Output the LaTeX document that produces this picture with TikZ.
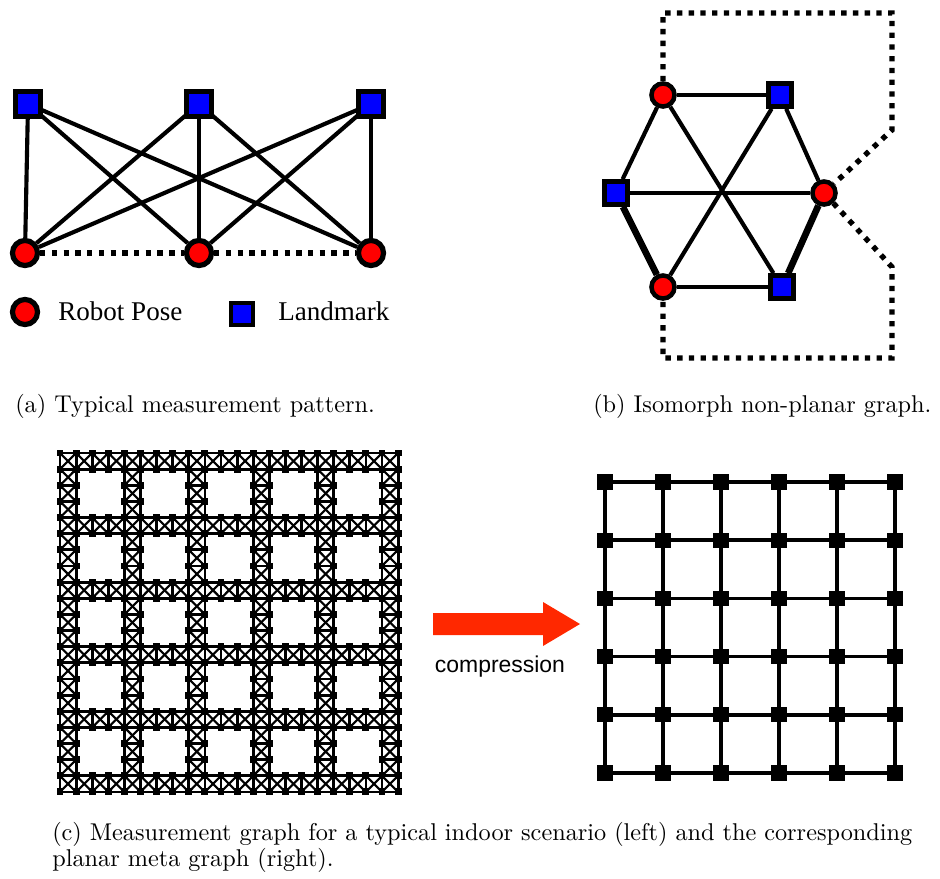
\documentclass[tikz,border=0pt]{standalone}
\usepackage{fontspec}
\newfontfamily\legendfont{Liberation Serif}
\newfontfamily\labelfont{Liberation Sans}
\newfontfamily\capfont{lmroman10-regular}[Extension=.otf]
\usetikzlibrary{backgrounds}
\definecolor{arrowred}{RGB}{255,40,0}

\tikzset{
  pose/.style={circle, draw=black, fill=red, line width=3.9pt, minimum size=18.8pt, inner sep=0pt},
  landmark/.style={rectangle, draw=black, fill=blue, line width=3.6pt, minimum size=18.4pt, inner sep=0pt},
  hpose/.style={pose, line width=3.4pt, minimum size=17.3pt},
  hmark/.style={landmark, line width=3.4pt, minimum size=17.3pt},
  meas/.style={line width=3.1pt},
  heavy/.style={line width=5pt},
  odo/.style={line width=4pt, dash pattern=on 4pt off 4.8pt},
  gside/.style={line width=2.1pt},
  gdiag/.style={line width=1.6pt},
  gnode/.style={rectangle, fill=black, minimum size=5.2pt, inner sep=0pt},
  mline/.style={line width=2.6pt},
  mnode/.style={rectangle, fill=black, minimum size=11.3pt, inner sep=0pt},
  legendtext/.style={font=\legendfont\fontsize{20.3pt}{24pt}\selectfont, inner sep=0pt, anchor=base west},
  captext/.style={font=\capfont\fontsize{18.2pt}{20pt}\selectfont, inner sep=0pt, anchor=base west},
}

\begin{document}
\begin{tikzpicture}[x=0.75pt, y=-0.75pt]
\useasboundingbox (0,0) rectangle (940,879);

% ---------- (a) measurement pattern ----------
\node[pose] (r1) at (25,253) {};
\node[pose] (r2) at (199,253) {};
\node[pose] (r3) at (371,253) {};
\node[landmark] (l1) at (28,104) {};
\node[landmark] (l2) at (199,104) {};
\node[landmark] (l3) at (371,104) {};
\begin{scope}[on background layer]
  \foreach \l in {l1,l2,l3}
    \foreach \r in {r1,r2,r3}
      \draw[meas] (\l.center) -- (\r);
\end{scope}
\draw[odo] (r1) -- (r2);
\draw[odo] (r2) -- (r3);

% legend
\node[pose] (kp) at (25,312) {};
\node[legendtext] (kpt) at (58,320) {Robot Pose};
\node[landmark, minimum size=16.5pt] (kl) at (242,314) {};
\node[legendtext] (klt) at (278,320) {Landmark};

\node[captext] (capa) at (15,412) {(a) Typical measurement pattern.};

% ---------- (b) isomorph graph ----------
\node[hpose] (hTL) at (663,95) {};
\node[hmark] (hTR) at (780,95) {};
\node[hmark] (hL) at (616,193) {};
\node[hpose] (hR) at (824,193) {};
\node[hpose] (hBL) at (663,287) {};
\node[hmark] (hBR) at (782,287) {};
\begin{scope}[on background layer]
  \draw[meas] (hTL) -- (hTR);
  \draw[meas] (hTR) -- (hR);
  \draw[heavy] (hR) -- (hBR);
  \draw[meas] (hBR) -- (hBL);
  \draw[heavy] (hBL) -- (hL);
  \draw[meas] (hL) -- (hTL);
  \draw[meas] (hTL) -- (hBR);
  \draw[meas] (hTR) -- (hBL);
  \draw[meas] (hL) -- (hR);
\end{scope}
\coordinate (o1) at (663,13);
\coordinate (o2) at (892,13);
\coordinate (o3) at (892,130);
\coordinate (o4) at (892,267);
\coordinate (o5) at (892,358);
\coordinate (o6) at (663,358);
\draw[odo, line join=miter] (hTL) -- (o1) -- (o2) -- (o3) -- (hR);
\draw[odo, line join=miter] (hR) -- (o4) -- (o5) -- (o6) -- (hBL);

\node[captext] (capb) at (593,412) {(b) Isomorph non-planar graph.};

% ---------- (c) left: dense measurement graph ----------
\foreach \i in {0,...,21}{
  \foreach \j in {0,...,21}{
    \coordinate (g-\i-\j) at ({60+16.1*\i},{453+16.14*\j});
  }
}
\foreach \i in {0,...,20}{
  \foreach \j in {0,...,20}{
    \pgfmathtruncatemacro\ci{mod(\i,4)}
    \pgfmathtruncatemacro\cj{mod(\j,4)}
    \pgfmathtruncatemacro\ip{\i+1}
    \pgfmathtruncatemacro\jp{\j+1}
    \pgfmathtruncatemacro\cellon{(\ci==0)||(\cj==0)}
    \ifnum\cellon=1
      \draw[gside] (g-\i-\j) rectangle (g-\ip-\jp);
      \draw[gdiag] (g-\i-\j) -- (g-\ip-\jp);
      \draw[gdiag] (g-\ip-\j) -- (g-\i-\jp);
    \fi
  }
}
\foreach \i in {0,...,21}{
  \foreach \j in {0,...,21}{
    \pgfmathtruncatemacro\ci{mod(\i,4)}
    \pgfmathtruncatemacro\cj{mod(\j,4)}
    \pgfmathtruncatemacro\nodeon{(\ci<2)||(\cj<2)}
    \ifnum\nodeon=1
      \node[gnode] (gn-\i-\j) at (g-\i-\j) {};
    \fi
  }
}

% ---------- compression arrow ----------
\fill[arrowred] (433,613) -- (543,613) -- (543,602) -- (580,624)
  -- (543,646) -- (543,635) -- (433,635) -- cycle;
\node[font=\labelfont\fontsize{17.2pt}{20pt}\selectfont, inner sep=0pt, anchor=base] (comp) at (500,672) {compression};

% ---------- (c) right: planar meta graph ----------
\foreach \i in {0,...,5}{
  \foreach \j in {0,...,5}{
    \coordinate (m-\i-\j) at ({605+58*\i},{482+58.2*\j});
  }
}
\foreach \i in {0,...,5}{
  \foreach \j in {0,...,4}{
    \pgfmathtruncatemacro\jp{\j+1}
    \draw[mline] (m-\i-\j) -- (m-\i-\jp);
    \draw[mline] (m-\j-\i) -- (m-\jp-\i);
  }
}
\foreach \i in {0,...,5}{
  \foreach \j in {0,...,5}{
    \node[mnode] (mn-\i-\j) at (m-\i-\j) {};
  }
}

\node[captext] (capc1) at (52,840) {\hbox to 645pt{(c) Measurement graph for a typical indoor scenario (left) and the corresponding}};
\node[captext] (capc2) at (52,866) {planar meta graph (right).};
\end{tikzpicture}
\end{document}
